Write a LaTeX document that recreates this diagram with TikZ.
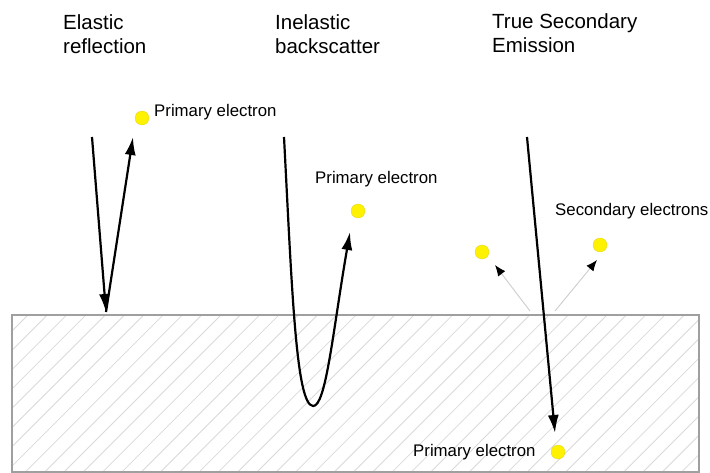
\documentclass[tikz,border=0pt]{standalone}
\usepackage{fontspec}
\setmainfont{Liberation Sans}
\usetikzlibrary{arrows.meta}

\begin{document}
\begin{tikzpicture}[x=1pt,y=-1pt,
  title/.style={anchor=north west,inner sep=0pt,align=left,font=\fontsize{20.5}{24}\selectfont},
  lbl/.style={anchor=base west,inner sep=0pt,font=\fontsize{16.8}{20}\selectfont},
  dot/.style={circle,fill=yellow,draw=yellow!85!black,line width=0.3pt,minimum size=14pt,inner sep=0pt},
  beam/.style={line width=2.2pt,-{Latex[length=18pt,width=11pt]}},
  sec/.style={gray!40,line width=0.9pt,-{Latex[length=11pt,width=9pt,color=black]}},
  hatch/.style={gray!30,line width=0.8pt}]
  \useasboundingbox (0,0) rectangle (710,473);
  % slab
  \begin{scope}
    \clip (12,315) rectangle (699,472);
    \foreach \k in {0,...,45} \draw[hatch] ({\k*19.3-129},472) -- ++(157,-157);
  \end{scope}
  \draw[gray!75,line width=1.2pt] (12,315) rectangle (699,472);
  % titles
  \node[title] (tEl) at (63,14) {Elastic\\reflection};
  \node[title] (tIn) at (275,14) {Inelastic\\backscatter};
  \node[title] (tTs) at (492,13) {True Secondary\\Emission};
  % elastic reflection
  \coordinate (e0) at (92,137);
  \coordinate (e1) at (106,312);
  \coordinate (e2) at (133,137);
  \draw[beam] (e0) -- (e1);
  \draw[beam] (e1) -- (e2);
  \node[dot] (d1) at (142,118) {};
  \node[lbl] (l1) at (154,117) {Primary electron};
  % inelastic backscatter
  \coordinate (b0) at (284,137);
  \coordinate (b1) at (313,406);
  \coordinate (b2) at (350,232);
  \draw[beam] (b0) .. controls (292,290) and (296,405) .. (b1)
    .. controls (326,407) and (333,330) .. (b2);
  \node[dot] (d2) at (358,211) {};
  \node[lbl] (l2) at (315,184) {Primary electron};
  % true secondary emission
  \coordinate (p0) at (527,137);
  \coordinate (p1) at (555,433);
  \coordinate (s0) at (530,311);
  \coordinate (s1) at (495,265);
  \coordinate (s2) at (555,311);
  \coordinate (s3) at (597,260);
  \draw[sec] (s0) -- (s1);
  \draw[sec] (s2) -- (s3);
  \draw[beam] (p0) -- (p1);
  \node[dot] (d3) at (482,252) {};
  \node[dot] (d4) at (600,245) {};
  \node[dot] (d5) at (558,452) {};
  \node[lbl] (l3) at (555,216) {Secondary electrons};
  \node[lbl] (l4) at (413,456) {Primary electron};
\end{tikzpicture}
\end{document}
